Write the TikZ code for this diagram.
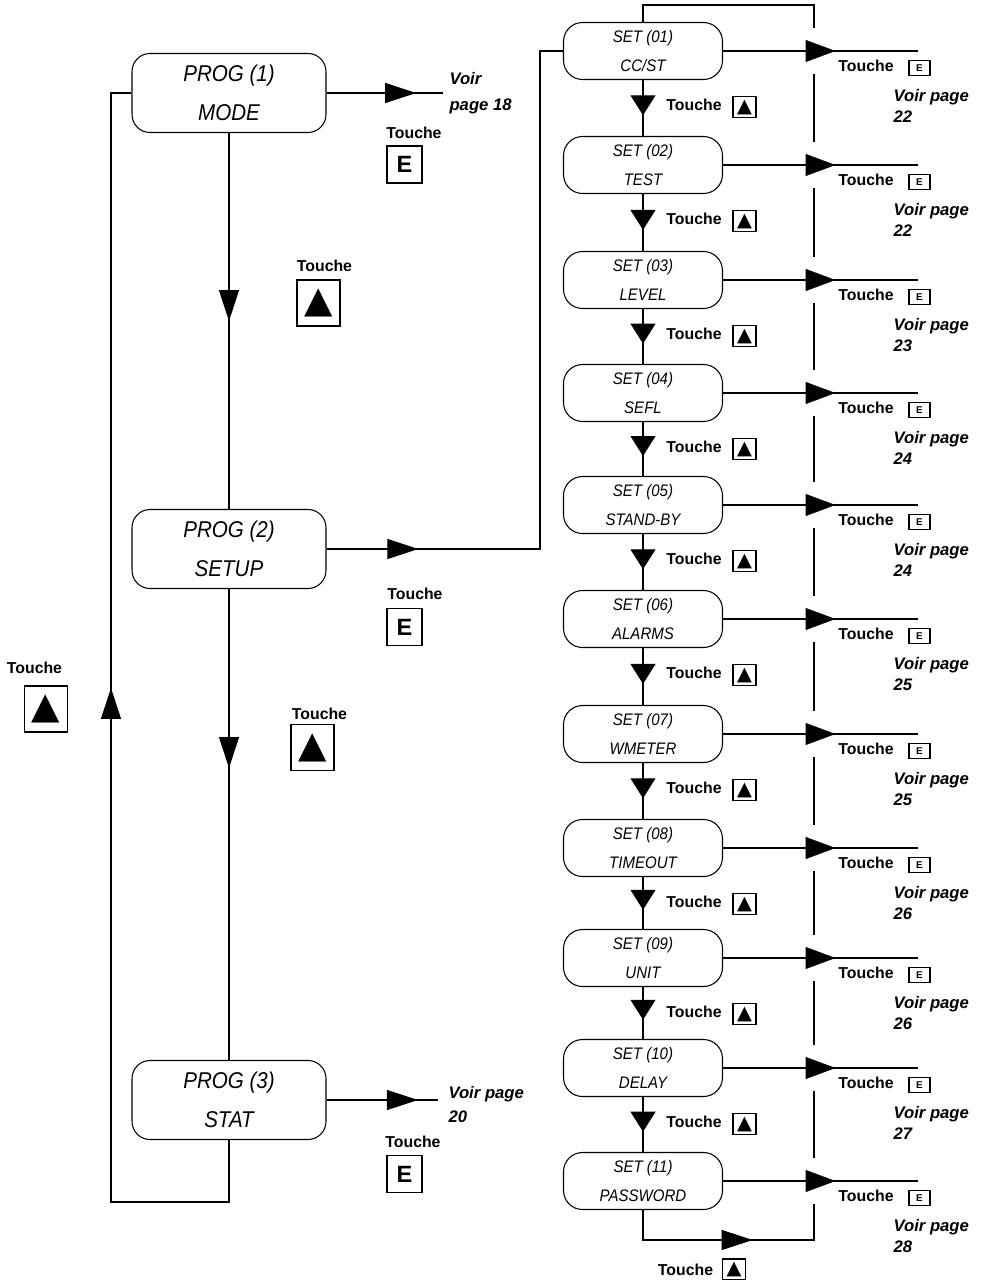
\documentclass[tikz,border=0pt]{standalone}
\usepackage{fontspec}
\setmainfont{Liberation Sans}
\newfontfamily\symfont{DejaVu Sans}
\newfontfamily\lcdfont[FakeStretch=0.9]{Liberation Sans}
\usetikzlibrary{positioning,arrows.meta,decorations.markings}

\tikzset{
  progbox/.style={draw, rounded corners=0.36cm, minimum width=3.88cm, minimum height=1.58cm,
    inner sep=0pt, align=center, font=\lcdfont\itshape\fontsize{13}{22}\selectfont},
  setbox/.style={draw, rounded corners=0.38cm, minimum width=3.18cm, minimum height=1.14cm,
    inner sep=0pt, align=center, font=\lcdfont\itshape\fontsize{9.5}{17}\selectfont},
  touche/.style={inner sep=0pt, font=\bfseries\fontsize{9}{10}\selectfont},
  voir/.style={inner sep=0pt, align=left, anchor=north west, font=\bfseries\itshape\fontsize{9.5}{12}\selectfont},
  bigkey/.style={draw, minimum width=0.86cm, minimum height=0.92cm, inner sep=0pt,
    font=\symfont\fontsize{21}{21}\selectfont},
  smallkey/.style={draw, minimum width=0.46cm, minimum height=0.42cm, inner sep=0pt,
    font=\symfont\fontsize{11}{11}\selectfont},
  ekey/.style={draw, minimum width=0.7cm, minimum height=0.74cm, inner sep=0pt,
    font=\bfseries\fontsize{13.4}{14}\selectfont},
  smallekey/.style={draw, minimum width=0.42cm, minimum height=0.3cm, inner sep=0pt,
    font=\bfseries\fontsize{5.6}{6}\selectfont},
  flow/.style={postaction={decorate}, decoration={markings,
    mark=at position #1 with {\arrow{Triangle[length=0.62cm,width=0.4cm]}}}},
  outtip/.style={postaction={decorate}, decoration={markings,
    mark=at position #1 with {\arrow{Triangle[length=0.6cm,width=0.44cm]}}}},
  settip/.style={postaction={decorate}, decoration={markings,
    mark=at position #1 with {\arrow{Triangle[length=0.4cm,width=0.5cm]}}}},
}

\begin{document}
\begin{tikzpicture}[x=0.02cm, y=-0.02cm, line width=0.6pt]
  \useasboundingbox (0,0) rectangle (983,1280);

  % program menu
  \node[progbox] (p1) at (229,93) {PROG (1)\\MODE};
  \node[progbox] (p2) at (229,549) {PROG (2)\\SETUP};
  \node[progbox] (p3) at (229,1100) {PROG (3)\\STAT};

  % setup menu
  \node[setbox] (s1) at (643,51) {SET (01)\\CC/ST};
  \node[setbox] (s2) at (643,165) {SET (02)\\TEST};
  \node[setbox] (s3) at (643,280) {SET (03)\\LEVEL};
  \node[setbox] (s4) at (643,393) {SET (04)\\SEFL};
  \node[setbox] (s5) at (643,505) {SET (05)\\STAND-BY};
  \node[setbox] (s6) at (643,619) {SET (06)\\ALARMS};
  \node[setbox] (s7) at (643,734) {SET (07)\\WMETER};
  \node[setbox] (s8) at (643,848) {SET (08)\\TIMEOUT};
  \node[setbox] (s9) at (643,958) {SET (09)\\UNIT};
  \node[setbox] (s10) at (643,1068) {SET (10)\\DELAY};
  \node[setbox] (s11) at (643,1181) {SET (11)\\PASSWORD};

  \coordinate (o1) at (443,93);
  \coordinate (o3) at (438,1100);
  \coordinate (jog) at (540,51);
  \coordinate (retb) at (111,1202);
  \coordinate (loopb) at (814,1240);
  \coordinate (loopt) at (814,5);

  \begin{scope}[-]
    \draw[flow=0.5] (p1) -- (p2);
    \draw[flow=0.38] (p2) -- (p3);
    \draw[flow=0.53] (p3.south) |- (retb) |- (p1.west);
    \draw[flow=0.77] (p1) -- (o1);
    \draw[flow=0.125] (p2.east) -| (jog) -- (s1.west);
    \draw[flow=0.82] (p3) -- (o3);
    \draw[flow=0.086] (s11.south) |- (loopb) -- (loopt) -| (s1.north);
    \draw[settip=0.63] (s1) -- (s2);
    \draw[settip=0.63] (s2) -- (s3);
    \draw[settip=0.63] (s3) -- (s4);
    \draw[settip=0.63] (s4) -- (s5);
    \draw[settip=0.63] (s5) -- (s6);
    \draw[settip=0.63] (s6) -- (s7);
    \draw[settip=0.63] (s7) -- (s8);
    \draw[settip=0.63] (s8) -- (s9);
    \draw[settip=0.63] (s9) -- (s10);
    \draw[settip=0.63] (s10) -- (s11);
  \end{scope}

  % key labels, program menu
  \node[touche] at (414,133) {Touche};
  \node[ekey] (e1) at (404.5,164.5) {E};
  \node[voir, font=\bfseries\itshape\fontsize{9.5}{14.7}\selectfont] at (449,72) {Voir\\page 18};
  \node[touche] at (324.5,266) {Touche};
  \node[bigkey] (u1) at (318.5,303) {▲};
  \node[touche] at (415,594) {Touche};
  \node[ekey] (e2) at (404.5,627) {E};
  \node[touche] at (319.5,714) {Touche};
  \node[bigkey] (u2) at (312.5,747.5) {▲};
  \node[touche] at (34.5,668) {Touche};
  \node[bigkey] (u3) at (46,709) {▲};
  \node[touche] at (413,1142) {Touche};
  \node[ekey] (e3) at (404.5,1174) {E};
  \node[voir, font=\bfseries\itshape\fontsize{9.5}{13.6}\selectfont] at (448,1086) {Voir page\\20};

  % key labels, setup menu
  \foreach \i/\y/\pg in {1/51/22, 2/165/22, 3/280/23, 4/393/24, 5/505/24, 6/619/25,
                         7/734/25, 8/848/26, 9/958/26, 10/1068/27, 11/1181/28} {
    \fill[white] (804,\y-23) rectangle (824,\y+23);
    \coordinate (e\i) at (918,\y);
    \draw[outtip=0.577] (s\i) -- (e\i);
    \node[touche] at (866,\y+15) {Touche};
    \node[smallekey] at (919.5,\y+17) {E};
    \node[voir] at (893,\y+38) {Voir page\\\pg};
  }
  \foreach \y in {51,165,280,393,505,619,734,848,958,1068} {
    \node[touche] at (694,\y+54) {Touche};
    \node[smallkey] at (744.5,\y+56) {▲};
  }
  \node[touche] at (685.5,1270) {Touche};
  \node[smallkey] (u4) at (734,1269.5) {▲};
\end{tikzpicture}
\end{document}
